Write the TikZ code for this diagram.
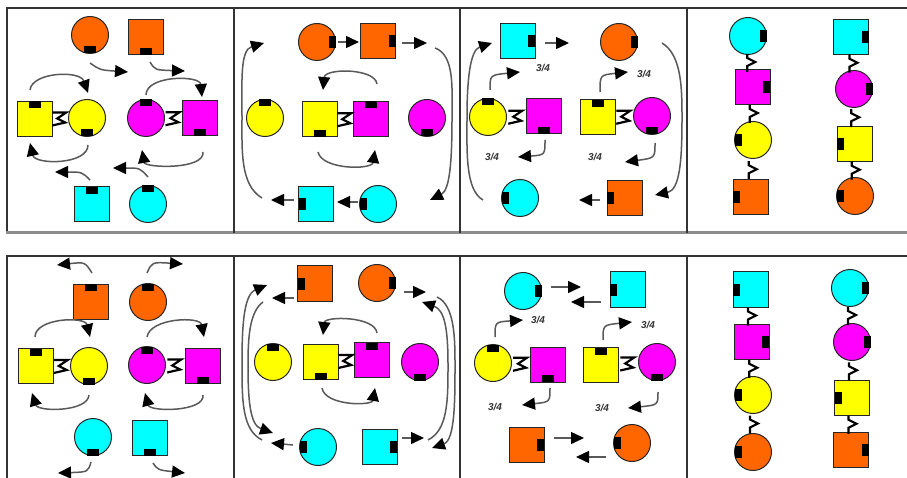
\documentclass[tikz,border=0pt]{standalone}
\usepackage{fontspec}
\setsansfont{Liberation Sans}
\usetikzlibrary{arrows.meta,calc}
\definecolor{cOr}{HTML}{FF6600}
\definecolor{cYe}{HTML}{FFFF00}
\definecolor{cMa}{HTML}{FF00FF}
\definecolor{cCy}{HTML}{00FFFF}
\tikzset{
 circ/.style={circle,draw=black!85,line width=1pt,minimum size=37pt,inner sep=0pt,outer sep=0pt},
 sqr/.style={rectangle,draw=black!85,line width=1pt,minimum size=35pt,inner sep=0pt,outer sep=0pt},
 arr/.style={draw=black!65,line width=1.5pt,-{Triangle[length=13pt,width=12pt,color=black]}},
 link/.style={draw=black,line width=2.2pt,line join=miter},
 frac/.style={font=\sffamily\itshape\bfseries\fontsize{10}{11}\selectfont,text=black!80},
 frm/.style={draw=black!80,line width=2pt}
}
\newcommand\nN[1]{\fill[black] ([xshift=-6pt]#1.north) rectangle ([xshift=6pt,yshift=-7pt]#1.north);}
\newcommand\nS[1]{\fill[black] ([xshift=-6pt]#1.south) rectangle ([xshift=6pt,yshift=7pt]#1.south);}
\newcommand\nE[1]{\fill[black] ([yshift=-6pt]#1.east) rectangle ([yshift=6pt,xshift=-7pt]#1.east);}
\newcommand\nW[1]{\fill[black] ([yshift=-6pt]#1.west) rectangle ([yshift=6pt,xshift=7pt]#1.west);}
\newcommand\Ci[5]{\node[circ,fill=#4] (#1) at (#2,#3) {}; \csname n#5\endcsname{#1}}
\newcommand\Sq[5]{\node[sqr,fill=#4] (#1) at (#2,#3) {}; \csname n#5\endcsname{#1}}
\newcommand\hlink[2]{\draw[link] ($(#1.east)!0.5!(#2.west)$) ++(-8,-6) -- ++(14,0) -- ++(-9,6) -- ++(8,4) -- ++(-13,3);}
\newcommand\vlink[2]{\draw[link] ($(#1.south)!0.5!(#2.north)$) ++(-3,-8) -- ++(0,4) -- ++(8,4) -- ++(-8,4) -- ++(0,6);}
\begin{document}
\begin{tikzpicture}[x=1pt,y=-1pt]
\useasboundingbox (0,0) rectangle (907,478);
\fill[white] (0,0) rectangle (907,478);
% frames
\draw[frm] (6,8) -- (907,8);
\draw[frm] (7,8) -- (7,233);
\draw[draw=black!45,line width=3pt] (6,233) -- (907,233);
\foreach \x in {234,460,687} \draw[frm] (\x,8) -- (\x,233);
\draw[frm] (6,256) -- (907,256);
\draw[frm] (7,256) -- (7,478);
\foreach \x in {234,460,687} \draw[frm] (\x,256) -- (\x,478);

% ---------- top panel 1
\Ci{a1}{90}{35}{cOr}{S}
\Sq{a2}{146}{37.5}{cOr}{S}
\Sq{a3}{34.5}{119}{cYe}{N}
\Ci{a4}{87}{118}{cYe}{S}
\Ci{a5}{146}{118}{cMa}{N}
\Sq{a6}{200}{118.5}{cMa}{S}
\Sq{a7}{92}{204.5}{cCy}{N}
\Ci{a8}{148}{204}{cCy}{N}
\hlink{a3}{a4}
\hlink{a5}{a6}
\draw[arr] (90,63) .. controls (100,70) .. (128,72);
\draw[arr] (150,62) .. controls (155,70) .. (185,71);
\draw[arr] (30,90) .. controls (32,72) and (80,70) .. (88,93);
\draw[arr] (146,95) .. controls (146,75) and (200,75) .. (202,97);
\draw[arr] (88,145) .. controls (88,165) and (35,165) .. (30,143);
\draw[arr] (203,152) .. controls (205,170) and (145,168) .. (142,150);
\draw[arr] (90,180) .. controls (82,172) .. (55,172);
\draw[arr] (148,177) .. controls (140,168) .. (113,168);

% ---------- top panel 2
\Ci{b1}{317}{42}{cOr}{E}
\Sq{b2}{378}{41.5}{cOr}{E}
\Ci{b3}{265}{118}{cYe}{N}
\Sq{b4}{319.5}{119.5}{cYe}{S}
\Sq{b5}{371}{119}{cMa}{N}
\Ci{b6}{427}{118}{cMa}{S}
\Sq{b7}{316}{204}{cCy}{W}
\Ci{b8}{378}{204}{cCy}{W}
\hlink{b4}{b5}
\draw[arr] (338,42) -- (359,42);
\draw[arr] (402,43) -- (427,43);
\draw[arr] (435,48) .. controls (455,55) and (452,90) .. (452,118) .. controls (452,160) and (450,190) .. (430,200);
\draw[arr] (262,198) .. controls (240,185) and (242,150) .. (242,118) .. controls (242,80) and (240,50) .. (264,43);
\draw[arr] (377,84) .. controls (375,68) and (325,68) .. (323,90);
\draw[arr] (318,152) .. controls (322,170) and (372,170) .. (375,150);
\draw[arr] (294,200) -- (271,200);
\draw[arr] (358,202) -- (337,202);

% ---------- top panel 3
\Sq{c1}{517.5}{41.5}{cCy}{E}
\Ci{c2}{619}{42}{cOr}{E}
\Ci{c3}{488}{117}{cYe}{N}
\Sq{c4}{543.5}{116.5}{cMa}{S}
\Sq{c5}{597.5}{117.5}{cYe}{N}
\Ci{c6}{652}{116}{cMa}{S}
\Ci{c7}{520}{198}{cCy}{W}
\Sq{c8}{624.5}{198}{cOr}{W}
\hlink{c3}{c4}
\hlink{c5}{c6}
\draw[arr] (545,43) -- (569,43);
\draw[arr] (662,43) .. controls (682,55) and (682,90) .. (682,118) .. controls (682,160) and (680,190) .. (655,195);
\draw[arr] (483,200) .. controls (465,190) and (467,150) .. (467,118) .. controls (467,80) and (470,50) .. (492,43);
\draw[arr] (490,90) .. controls (490,75) .. (520,72);
\node[frac] (c9) at (543,68) {3/4};
\draw[arr] (600,92) .. controls (600,75) .. (628,72);
\node[frac] (c10) at (644,74) {3/4};
\draw[arr] (545,140) .. controls (545,155) .. (518,157);
\node[frac] (c11) at (492,157) {3/4};
\draw[arr] (655,143) .. controls (655,158) .. (625,162);
\node[frac] (c12) at (595,157) {3/4};
\draw[arr] (600,200) -- (579,200);

% ---------- top panel 4
\Ci{d1}{748}{36}{cCy}{E}
\Sq{d2}{752.5}{87}{cMa}{E}
\Ci{d3}{753}{140}{cYe}{W}
\Sq{d4}{750.5}{197.5}{cOr}{W}
\Sq{d5}{851}{37.5}{cCy}{E}
\Ci{d6}{854}{89}{cMa}{E}
\Sq{d7}{854.5}{144.5}{cYe}{W}
\Ci{d8}{855}{196}{cOr}{W}
\vlink{d1}{d2}\vlink{d2}{d3}\vlink{d3}{d4}
\vlink{d5}{d6}\vlink{d6}{d7}\vlink{d7}{d8}

% ---------- bottom panel 1
\Sq{e1}{90.5}{301.5}{cOr}{N}
\Ci{e2}{148}{302}{cOr}{N}
\Sq{e3}{35.5}{366}{cYe}{N}
\Ci{e4}{89}{366}{cYe}{S}
\Ci{e5}{147}{365}{cMa}{N}
\Sq{e6}{202.5}{366}{cMa}{S}
\Ci{e7}{93}{437}{cCy}{S}
\Sq{e8}{149.5}{438}{cCy}{S}
\hlink{e3}{e4}
\hlink{e5}{e6}
\draw[arr] (92,273) .. controls (85,262) .. (57,265);
\draw[arr] (147,273) .. controls (152,262) .. (183,264);
\draw[arr] (35,337) .. controls (35,318) and (85,316) .. (90,337);
\draw[arr] (147,337) .. controls (150,318) and (200,316) .. (204,337);
\draw[arr] (89,395) .. controls (88,412) and (38,412) .. (32,393);
\draw[arr] (203,395) .. controls (205,412) and (150,412) .. (145,393);
\draw[arr] (91,462) .. controls (88,472) .. (58,473);
\draw[arr] (153,463) .. controls (158,470) .. (185,473);

% ---------- bottom panel 2
\Sq{f1}{315}{283.5}{cOr}{W}
\Ci{f2}{377}{283}{cOr}{E}
\Ci{f3}{273}{362}{cYe}{N}
\Sq{f4}{320.5}{362}{cYe}{S}
\Sq{f5}{372}{360}{cMa}{N}
\Ci{f6}{420}{362}{cMa}{S}
\Ci{f7}{318}{447}{cCy}{W}
\Sq{f8}{379.5}{446.5}{cCy}{E}
\hlink{f4}{f5}
\draw[arr] (294,298) -- (272,298);
\draw[arr] (404,292) -- (426,292);
\draw[arr] (437,297) .. controls (455,305) and (455,340) .. (455,365) .. controls (455,400) and (455,440) .. (432,448);
\draw[arr] (428,440) .. controls (448,430) and (448,400) .. (448,365) .. controls (448,330) and (445,310) .. (422,302);
\draw[arr] (262,440) .. controls (242,430) and (242,400) .. (242,365) .. controls (242,330) and (243,295) .. (267,285);
\draw[arr] (263,302) .. controls (249,312) and (248,340) .. (248,365) .. controls (248,400) and (250,425) .. (273,433);
\draw[arr] (377,333) .. controls (375,316) and (325,316) .. (323,335);
\draw[arr] (322,388) .. controls (325,406) and (372,406) .. (375,388);
\draw[arr] (402,438) -- (424,438);
\draw[arr] (293,445) -- (271,443);

% ---------- bottom panel 3
\Ci{g1}{523}{291}{cCy}{E}
\Sq{g2}{627.5}{289.5}{cCy}{W}
\Ci{g3}{493}{363}{cYe}{N}
\Sq{g4}{548}{364.5}{cMa}{S}
\Sq{g5}{600.5}{365}{cYe}{N}
\Ci{g6}{657}{362}{cMa}{S}
\Sq{g7}{526.5}{445}{cOr}{E}
\Ci{g8}{632}{443}{cOr}{W}
\hlink{g3}{g4}
\hlink{g5}{g6}
\draw[arr] (551,287) -- (581,287);
\draw[arr] (601,302) -- (571,302);
\draw[arr] (495,337) .. controls (495,322) .. (523,320);
\node[frac] (g9) at (538,320) {3/4};
\draw[arr] (603,340) .. controls (603,325) .. (632,322);
\node[frac] (g10) at (648,325) {3/4};
\draw[arr] (550,388) .. controls (550,402) .. (522,405);
\node[frac] (g11) at (495,407) {3/4};
\draw[arr] (658,392) .. controls (658,405) .. (628,408);
\node[frac] (g12) at (602,408) {3/4};
\draw[arr] (554,438) -- (584,438);
\draw[arr] (606,457) -- (576,457);

% ---------- bottom panel 4
\Sq{h1}{750.5}{289.5}{cCy}{W}
\Sq{h2}{751.5}{341.5}{cMa}{E}
\Ci{h3}{753}{395}{cYe}{W}
\Ci{h4}{753}{452}{cOr}{W}
\Ci{h5}{850}{288}{cCy}{E}
\Ci{h6}{852}{342}{cMa}{E}
\Sq{h7}{852}{397.5}{cYe}{W}
\Sq{h8}{851}{450}{cOr}{E}
\vlink{h1}{h2}\vlink{h2}{h3}\vlink{h3}{h4}
\vlink{h5}{h6}\vlink{h6}{h7}\vlink{h7}{h8}
\end{tikzpicture}
\end{document}
